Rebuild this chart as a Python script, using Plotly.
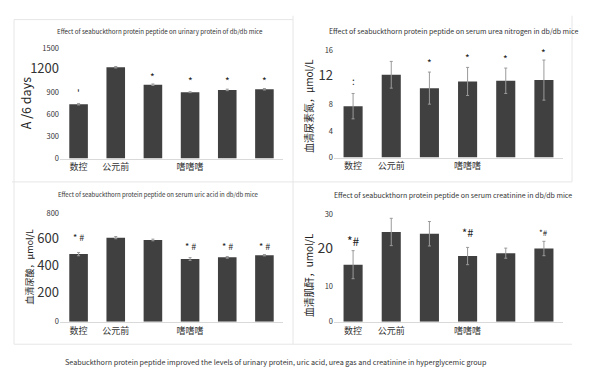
import plotly.graph_objects as go

W, H = 589, 391

categories = ["g1", "g2", "g3", "g4", "g5", "g6"]
xtick_labels = ["数控", "公元前", "", "嗜嗜嗜", "", ""]

# Panel 1: urinary protein
p1_values = [743, 1248, 1009, 907, 938, 947]
p1_err = [10, 10, 10, 6, 10, 10]
p1_marks = ["'", "", "*", "*", "*", "*"]
p1_mark_y = [903, None, 1128, 1062, 1062, 1062]

# Panel 2: serum urea nitrogen
p2_values = [7.7, 12.4, 10.4, 11.4, 11.5, 11.6]
p2_err = [1.9, 2.0, 2.4, 2.1, 1.9, 3.0]
p2_marks = [":", "", "*", "*", "*", "*"]
p2_mark_y = [11.5, None, 14.2, 15.0, 14.8, 15.7]

# Panel 3: serum uric acid
p3_values = [498, 619, 602, 462, 474, 490]
p3_err = [12, 8, 6, 10, 6, 5]
p3_marks = ["* #", "", "", "* #", "* #", "* #"]
p3_mark_y = [621, None, None, 557, 557, 557]

# Panel 4: serum creatinine
p4_values = [15.9, 25.0, 24.5, 18.3, 19.1, 20.4]
p4_err = [3.9, 3.8, 3.4, 2.4, 1.4, 2.0]
p4_marks = ["*#", "", "", "*#", "", "*#"]
p4_mark_y = [22.5, None, None, 25.1, None, 24.9]
p4_mark_size = [12, 0, 0, 11, 0, 8]

titles = [
    "Effect of seabuckthorn protein peptide on urinary protein of db/db mice",
    "Effect of seabuckthorn protein peptide on serum urea nitrogen in db/db mice",
    "Effect of seabuckthorn protein peptide on serum uric acid in db/db mice",
    "Effect of seabuckthorn protein peptide on serum creatinine in db/db mice",
]
ytitles = ["A /6 days", "血清尿素氮，μmol/L", "血清尿酸，μmol/L", "血清肌酐，umol/L"]
caption = "Seabuckthorn protein peptide improved the levels of urinary protein, uric acid, urea gas and creatinine in hyperglycemic group"

FONT = "Noto Sans CJK SC, Noto Sans, sans-serif"
BAR = "#404040"

def px_x(x):
    return x / W

def px_y(y):
    return 1 - y / H

# panel geometry in pixels: (x0, x1, ytop, ybottom)
panels = [
    (60, 283, 44, 157),
    (334, 563, 46, 156),
    (60, 283, 213, 325),
    (334, 563, 214, 325),
]
yranges = [[0, 1500], [0, 16], [0, 800], [0, 30]]
ytickvals = [[0, 300, 600, 900, 1200, 1500], [0, 4, 8, 12, 16], [0, 200, 400, 600, 800], [0, 10, 20, 30]]
big = {0: [1200], 1: [12], 2: [200, 400, 600], 3: [20]}
bigsize = {0: 13, 1: 13, 2: 13, 3: 14}

values = [p1_values, p2_values, p3_values, p4_values]
errs = [p1_err, p2_err, p3_err, p4_err]
marks = [p1_marks, p2_marks, p3_marks, p4_marks]
mark_ys = [p1_mark_y, p2_mark_y, p3_mark_y, p4_mark_y]

fig = go.Figure()
layout = {}
annotations = []

for i in range(4):
    x0, x1, yt, yb = panels[i]
    ax = "" if i == 0 else str(i + 1)
    fig.add_trace(go.Bar(
        x=list(range(6)), y=values[i],
        marker=dict(color=BAR, line=dict(width=0)),
        width=0.5,
        error_y=dict(type="data", array=errs[i], color="#9a9a9a", thickness=1, width=1.5),
        xaxis="x" + ax, yaxis="y" + ax, showlegend=False, hoverinfo="skip",
    ))
    ticktext = []
    for v in ytickvals[i]:
        if v in big[i]:
            ticktext.append(f"<span style='font-size:{bigsize[i]}px'>{v}</span>")
        else:
            ticktext.append(str(v))
    layout["xaxis" + ax] = dict(
        domain=[px_x(x0), px_x(x1)], range=[-0.5, 5.5], anchor="y" + ax,
        tickvals=list(range(6)), ticktext=xtick_labels,
        showline=True, linecolor="#d9d9d9", linewidth=1, ticks="",
        showgrid=False, zeroline=False,
        tickfont=dict(family=FONT, size=9, color="#333"),
        fixedrange=True,
    )
    layout["yaxis" + ax] = dict(
        domain=[px_y(yb), px_y(yt)], range=yranges[i], anchor="x" + ax,
        tickvals=ytickvals[i], ticktext=ticktext,
        showline=False, showgrid=False, zeroline=False, ticks="",
        tickfont=dict(family=FONT, size=7.5, color="#333"),
        fixedrange=True,
    )
    for j in range(6):
        if marks[i][j] and mark_ys[i][j] is not None:
            size = 10
            if i == 3:
                size = p4_mark_size[j]
            elif i == 2:
                size = 9
            annotations.append(dict(
                x=j, y=mark_ys[i][j], xref="x" + ax, yref="y" + ax,
                text=marks[i][j], showarrow=False,
                font=dict(family=FONT, size=size, color="#222"),
            ))

# titles
title_pos = [(160, 26, 6.2), (453, 26, 7), (158, 194, 6), (453, 194, 7)]
for t, (x, y, s) in zip(titles, title_pos):
    annotations.append(dict(x=px_x(x), y=px_y(y), xref="paper", yref="paper", text=t,
                            xanchor="center", yanchor="middle",
                            showarrow=False, font=dict(family=FONT, size=s, color="#333")))

# y-axis titles
ytitle_pos = [(25, 100, 12.5), (308, 103, 10), (29, 268, 9), (308, 277, 10)]
for t, (x, y, s) in zip(ytitles, ytitle_pos):
    annotations.append(dict(x=px_x(x), y=px_y(y), xref="paper", yref="paper", text=t,
                            xanchor="center", yanchor="middle",
                            textangle=-90, showarrow=False,
                            font=dict(family=FONT, size=s, color="#222")))

# caption
annotations.append(dict(x=px_x(276), y=px_y(366), xref="paper", yref="paper", text=caption,
                        xanchor="center", yanchor="middle",
                        showarrow=False, font=dict(family=FONT, size=7.2, color="#333")))

# faint panel frames
shapes = []
LC = "#e6e6e6"
for (a, b, c, d) in [(293, 10, 293, 348), (12, 181, 572, 181), (14, 14, 293, 14), (14, 14, 14, 348),
                     (572, 10, 572, 181), (14, 348, 572, 348)]:
    shapes.append(dict(type="line", xref="paper", yref="paper",
                       x0=px_x(a), y0=px_y(b), x1=px_x(c), y1=px_y(d),
                       line=dict(color=LC, width=1)))

fig.update_layout(
    width=W, height=H, margin=dict(l=0, r=0, t=0, b=0),
    paper_bgcolor="white", plot_bgcolor="white",
    annotations=annotations, shapes=shapes, bargap=0.5,
    **layout,
)

fig.write_html("out.html", config={"displayModeBar": False},
               post_script="document.body.style.margin='0';document.body.style.overflow='hidden';")
